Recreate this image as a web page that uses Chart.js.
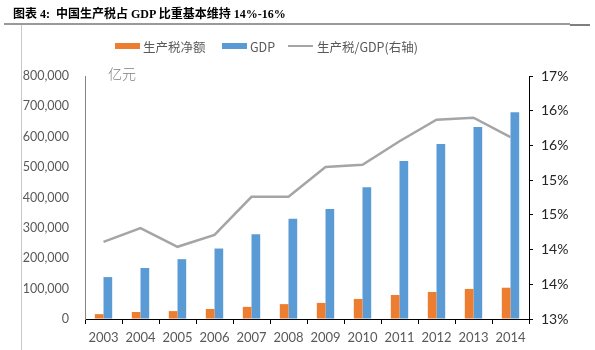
<!DOCTYPE html>
<html>
<head>
<meta charset="utf-8">
<script src="https://cdn.jsdelivr.net/npm/chart.js@4"></script>
<style>
  html, body { margin: 0; padding: 0; background: #fff; }
  #wrap { position: relative; width: 595px; height: 350px; overflow: hidden; }
  #chart { position: absolute; left: 0; top: 0; }
  .title { position: absolute; left: 13px; top: 4px; font: bold 12px "Liberation Serif", "Noto Sans CJK SC", serif; color: #000; white-space: nowrap; }
  .rule { position: absolute; left: 4px; top: 23px; width: 566px; height: 2px; background: #9a9a9a; }
  .rule-end { position: absolute; left: 570px; top: 24px; width: 20px; height: 2px; background: #7f7f7f; }
  .vline { position: absolute; left: 21px; top: 25px; width: 1px; height: 325px; background: #c8c8c8; }
  .legend { position: absolute; top: 37px; font: 12.5px "Noto Sans CJK SC", sans-serif; color: #595959; white-space: nowrap; }
  .box { position: absolute; width: 25px; height: 6px; }
  .unit { position: absolute; left: 108px; top: 63px; font: 300 14px "Noto Sans CJK SC", sans-serif; color: #7f7f7f; }
</style>
</head>
<body>
<div id="wrap">
  <canvas id="chart" width="595" height="350"></canvas>
  <div class="title">图表 4:&nbsp; 中国生产税占 GDP 比重基本维持 14%-16%</div>
  <div class="rule"></div>
  <div class="rule-end"></div>
  <div class="vline"></div>

  <div class="box" style="left:115px; top:43px; background:#ED7D31;"></div>
  <div class="legend" style="left:143px;">生产税净额</div>
  <div class="box" style="left:222px; top:43px; background:#5B9BD5;"></div>
  <div class="legend" style="left:250px;">GDP</div>
  <div class="box" style="left:288px; top:45px; height:2px; background:#A5A5A5;"></div>
  <div class="legend" style="left:317px;">生产税/GDP(右轴)</div>

  <div class="unit">亿元</div>
</div>
<script>
// data
const years = ['2003', '2004', '2005', '2006', '2007', '2008', '2009', '2010', '2011', '2012', '2013', '2014'];
const prodTax = [16000, 23000, 26000, 33000, 40000, 49000, 53000, 66000, 79000, 89000, 99000, 103000];
const gdp = [138000, 168000, 197000, 232000, 279000, 330000, 362000, 434000, 520000, 576000, 632000, 681000];
const taxRatio = [14.11, 14.31, 14.04, 14.21, 14.76, 14.76, 15.19, 15.22, 15.56, 15.87, 15.90, 15.62];

const ctx = document.getElementById('chart').getContext('2d');

new Chart(ctx, {
    data: {
        labels: years,
        datasets: [
            { type: 'line', label: '生产税/GDP(右轴)', data: taxRatio, yAxisID: 'y1', order: 0,
              borderColor: '#A5A5A5', borderWidth: 2.5, pointRadius: 0, tension: 0, fill: false },
            { type: 'bar', label: '生产税净额', data: prodTax, yAxisID: 'y', order: 1,
              backgroundColor: '#ED7D31', categoryPercentage: 0.47, barPercentage: 1 },
            { type: 'bar', label: 'GDP', data: gdp, yAxisID: 'y', order: 2,
              backgroundColor: '#5B9BD5', categoryPercentage: 0.47, barPercentage: 1 }
        ]
    },
    options: {
        responsive: false,
        animation: false,
        layout: { padding: { top: 76, left: 0, right: 0, bottom: 0 } },
        plugins: { legend: { display: false }, tooltip: { enabled: false } },
        scales: {
            x: {
                afterFit: s => { s.height = 31; },
                grid: { display: true, drawOnChartArea: false, drawTicks: true, tickLength: 5, color: '#000', offset: true },
                border: { color: '#000', width: 1 },
                ticks: { color: '#595959', font: { family: 'Lato', size: 13 }, padding: 6, maxRotation: 0 }
            },
            y: {
                position: 'left',
                min: 0, max: 800000,
                afterFit: s => { s.width = 85; },
                grid: { display: true, drawOnChartArea: false, drawTicks: false },
                border: { color: '#868686', width: 1 },
                ticks: {
                    stepSize: 100000, padding: 16, color: '#595959',
                    font: { family: 'Lato', size: 12.5 },
                    callback: v => v.toLocaleString('en-US')
                }
            },
            y1: {
                position: 'right',
                min: 13, max: 16.5,
                afterFit: s => { s.width = 66; },
                grid: { display: true, drawOnChartArea: false, drawTicks: true, tickLength: 4, color: '#000' },
                border: { color: '#000', width: 1 },
                ticks: {
                    stepSize: 0.5, padding: 8, color: '#262626',
                    font: { family: 'Lato', size: 14 },
                    callback: v => Math.round(v) + '%'
                }
            }
        }
    }
});
</script>
</body>
</html>
